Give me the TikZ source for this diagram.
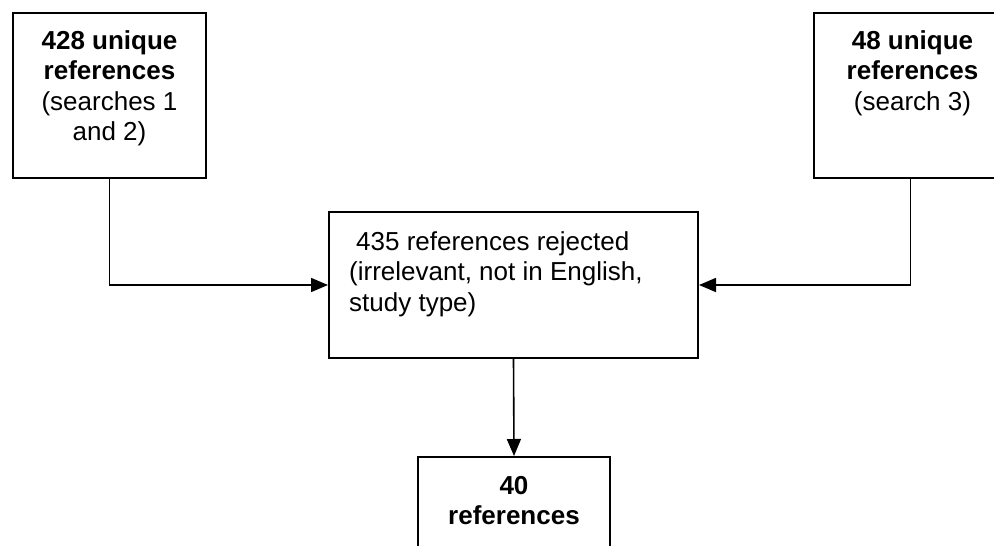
\documentclass[tikz,border=0pt]{standalone}
\usepackage{fontspec}
\setmainfont{Liberation Sans}
\usetikzlibrary{arrows.meta,positioning}

\begin{document}
\begin{tikzpicture}[x=1pt,y=-1pt,
    font=\fontsize{26}{30.5}\selectfont,
    box/.style={draw,line width=2pt,inner sep=0pt,anchor=north west},
    lbl/.style={inner sep=0pt,align=center},
    arr/.style={-{Triangle[length=17pt,width=14pt]},line width=1.6pt}]
  \useasboundingbox (0,0) rectangle (994,546);
  \clip (0,0) rectangle (994,546);
  % boxes
  \node[box,minimum width=193pt,minimum height=165pt] (src1) at (12,12) {};
  \node[box,minimum width=193pt,minimum height=165pt] (src2) at (813,12) {};
  \node[box,minimum width=369pt,minimum height=146pt] (reject) at (328,211) {};
  \node[box,minimum width=192pt,minimum height=120pt] (final) at (417,456) {};
  % texts
  \node[lbl,below=18pt of src1.north] (t1) {\textbf{428 unique}\\\textbf{references}\\(searches 1\\and 2)};
  \node[lbl,below=18pt of src2.north,xshift=2pt] (t2) {\textbf{48 unique}\\\textbf{references}\\(search 3)};
  \node[lbl,align=left,below right=20pt and 21pt of reject.north west] (t3)
    {\hspace{7pt}435 references rejected\\(irrelevant, not in English,\\study type)};
  \node[lbl,below=20pt of final.north] (t4) {\textbf{40}\\\textbf{references}};
  % connectors
  \draw[arr] (src1.south) |- (reject.west);
  \draw[arr] (src2.south) |- (reject.east);
  \draw[arr] (reject.south) -- (final.north);
\end{tikzpicture}
\end{document}
